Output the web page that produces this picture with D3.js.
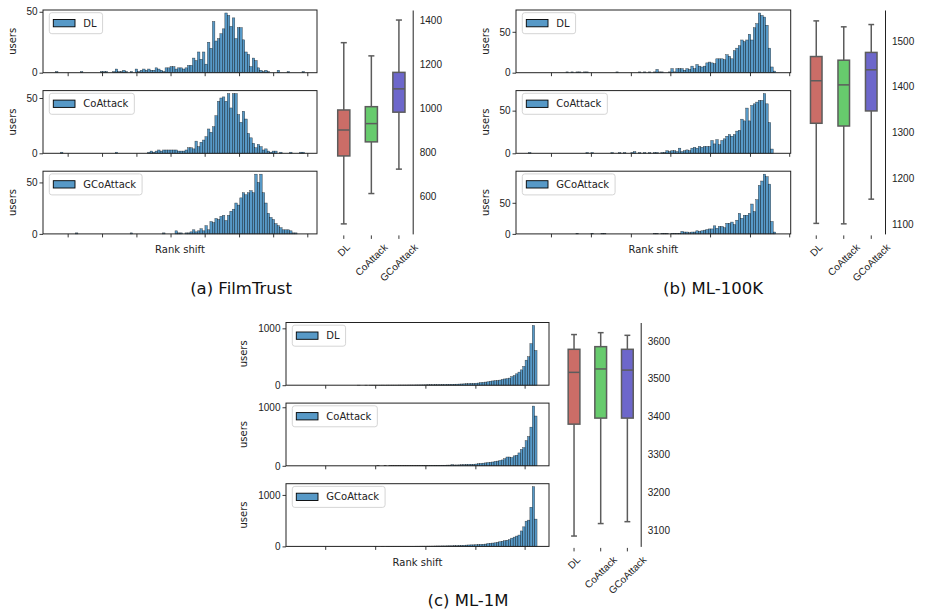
<!DOCTYPE html>
<html>
<head>
<meta charset="utf-8">
<script src="https://cdn.jsdelivr.net/npm/d3@7"></script>
<style>
  body { margin: 0; background: #fff; }
  svg { font-family: "DejaVu Sans", sans-serif; }
</style>
</head>
<body>
<svg width="926" height="613"></svg>
<script>
const methods = ['DL', 'CoAttack', 'GCoAttack'];

// ---- histogram counts, 100 bins of rank shift each
const filmTrustDL = [
  1,0,0,0,0,0,0,0,0,0, 1,0,0,0,0,0,0,0,1,1, 1,0,0,1,3,1,1,2,1,0, 1,0,3,1,2,3,2,3,2,2,
  4,3,2,1,4,4,5,5,3,4, 4,3,4,6,6,12,10,17,11,17, 7,25,20,42,26,28,32,36,49,47,
  38,45,28,37,37,27,17,15,5,12, 10,4,2,1,2,1,0,0,0,2, 0,0,0,1,0,0,0,0,0,1];
const filmTrustCo = [
  0,0,1,0,0,0,0,0,0,0, 0,0,0,0,0,0,0,0,0,0, 0,0,0,0,1,0,0,0,0,0, 0,0,0,0,0,0,0,1,2,1,
  2,3,2,3,3,3,3,3,3,2, 2,2,3,5,5,4,11,6,10,12, 15,22,19,24,34,47,50,51,47,54,
  41,54,54,35,28,38,31,18,14,9, 5,8,6,3,4,2,1,2,2,0, 1,0,0,0,1,0,0,0,1,1];
const filmTrustG = [
  0,0,0,0,0,0,0,0,1,0, 0,0,0,0,0,0,0,0,0,0, 0,0,0,0,0,0,0,0,0,0, 1,0,0,0,0,0,0,0,0,0,
  0,0,0,1,0,0,0,0,3,1, 1,0,1,1,2,4,2,3,5,3, 8,4,12,11,15,14,17,18,13,18,
  22,24,30,28,35,40,38,40,42,40, 58,50,58,40,30,20,16,14,10,8, 6,4,4,4,3,1,1,0,0,0];

const ml100kDL = [
  0,0,0,0,0,0,0,0,0,0, 0,0,0,0,0,1,0,1,0,1, 1,0,1,1,0,0,0,0,0,0, 0,0,0,0,0,1,0,0,0,0,
  0,0,0,0,1,0,1,0,1,0, 1,4,1,1,0,0,1,5,1,5, 5,5,3,5,4,8,5,10,8,7,
  8,12,13,12,11,17,17,17,16,22, 20,17,27,30,33,40,38,40,47,40, 55,60,73,70,68,58,30,7,2,0];
const ml100kCo = [
  1,0,0,0,0,0,0,0,0,0, 0,0,0,0,0,0,0,0,0,0, 0,0,0,1,0,1,0,0,0,0, 0,0,0,1,0,0,1,0,1,0,
  0,1,2,0,1,0,1,0,1,0, 1,1,0,1,1,3,2,3,3,2, 6,2,3,4,3,6,7,6,8,7,
  8,8,8,15,11,16,10,15,17,20, 22,20,22,26,27,40,38,53,38,56, 58,60,62,62,70,58,36,5,0,0];
const ml100kG = [
  0,0,0,0,0,0,0,0,0,0, 0,0,0,0,0,0,0,0,0,1, 0,0,0,0,0,1,0,0,0,1, 1,0,0,0,0,0,0,0,0,0,
  0,0,0,0,0,0,0,0,0,0, 1,1,0,1,1,1,0,1,1,1, 1,4,3,3,2,3,3,5,4,5,
  6,7,8,8,13,9,12,12,10,17, 17,19,15,22,33,25,30,30,33,48, 36,55,78,85,96,92,80,20,3,0];

const ml1mDL = [
  0,0,0,0,0,0,0,0,0,0, 0,0,0,0,0,0,0,0,0,0, 0,0,0,0,0,1,0,0,1,0, 1,1,1,1,1,2,1,2,2,2,
  2,2,3,3,3,3,4,4,4,5, 5,6,6,7,8,8,9,10,10,11, 12,13,14,15,15,17,18,20,22,24,
  26,28,30,30,35,38,45,48,55,60, 70,75,80,82,90,100,110,115,125,150, 170,200,230,270,330,440,500,730,1050,610];
const ml1mCo = [
  0,0,0,0,0,0,0,0,0,0, 0,0,0,0,0,0,0,0,0,0, 0,0,0,0,0,0,0,0,0,0, 0,0,0,1,0,0,1,0,1,1,
  1,1,1,2,2,2,2,3,3,3, 4,4,5,5,5,6,7,8,8,9, 10,10,12,12,20,14,15,16,18,20,
  22,24,25,25,30,35,40,45,50,55, 60,65,75,80,90,100,120,150,150,140, 170,180,220,280,310,430,500,660,1020,850];
const ml1mG = [
  0,0,0,0,0,0,0,0,0,0, 0,0,0,0,0,0,0,0,0,0, 0,0,0,0,0,0,0,0,0,0, 0,0,1,0,0,1,0,1,1,1,
  1,1,2,2,2,2,3,3,3,4, 4,5,5,5,6,6,7,8,9,9, 10,10,11,12,12,14,15,16,18,20,
  25,28,30,30,32,35,38,40,45,55, 60,65,70,80,90,100,110,120,130,160, 180,200,220,300,380,490,510,760,1160,530];

// ---- box stats: [lower whisker, q1, median, q3, upper whisker], order DL, CoAttack, GCoAttack
const filmTrustBoxes = [[476, 785, 903, 994, 1300], [614, 849, 932, 1009, 1240], [725, 984, 1090, 1165, 1403]];
const ml100kBoxes = [[1101, 1320, 1413, 1466, 1544], [1100, 1314, 1404, 1458, 1531], [1154, 1347, 1437, 1475, 1536]];
const ml1mBoxes = [[3084, 3380, 3517, 3578, 3617], [3117, 3396, 3526, 3585, 3622], [3122, 3396, 3523, 3578, 3615]];

// ---- ticks
const filmTrustBoxTicks = [600, 800, 1000, 1200, 1400];
const ml100kBoxTicks = [1100, 1200, 1300, 1400, 1500];
const ml1mBoxTicks = [3100, 3200, 3300, 3400, 3500, 3600];
const filmTrustUserTicks = [0, 50];
const ml100kUserTicks = [0, 50];
const ml1mUserTicks = [0, 1000];
// rank shift tick positions, in bin units
const filmTrustRankTicks = [4.9, 18.7, 32.5, 46.2, 59.9, 73.7, 87.4, 101.1];
const ml100kRankTicks = [9.0, 25.0, 41.0, 56.8, 72.7, 88.7, 104.4];
const ml1mRankTicks = [11.4, 32.3, 53.3, 74.2, 94.8];

const captions = ['(a) FilmTrust', '(b) ML-100K', '(c) ML-1M'];

const boxColors = ['#cb6d67', '#67cb6d', '#6d67cb'];
const boxLine = '#5c5c5c';
const barFill = '#1f77b4';
const ink = '#222';
const fmt = d3.format('d');

const svg = d3.select('svg');

const panels = [
  { hists: [filmTrustDL, filmTrustCo, filmTrustG], boxes: filmTrustBoxes,
    userTicks: filmTrustUserTicks, rankTicks: filmTrustRankTicks, boxTicks: filmTrustBoxTicks,
    left: 43, right: 317, top: 10, usersX: 12,
    box: { left: 330, right: 412.7, domain: [430.5, 1448.6], w: 0.44 },
    caption: { x: 241, y: 294, text: captions[0] } },
  { hists: [ml100kDL, ml100kCo, ml100kG], boxes: ml100kBoxes,
    userTicks: ml100kUserTicks, rankTicks: ml100kRankTicks, boxTicks: ml100kBoxTicks,
    left: 516, right: 790.7, top: 10, usersX: 485,
    box: { left: 802.5, right: 885, domain: [1078, 1567.8], w: 0.42 },
    caption: { x: 713, y: 294, text: captions[1] } },
  { hists: [ml1mDL, ml1mCo, ml1mG], boxes: ml1mBoxes,
    userTicks: ml1mUserTicks, rankTicks: ml1mRankTicks, boxTicks: ml1mBoxTicks,
    left: 286, right: 549, top: 322.5, usersX: 243,
    box: { left: 560.7, right: 640.7, domain: [3056.6, 3648.9], w: 0.44 },
    caption: { x: 468, y: 606, text: captions[2] } }
];

const rowH = 62.7, rowGap = 17.9;

function drawHist(counts, p, top, name) {
  const bottom = top + rowH;
  const g = svg.append('g');
  const x = d3.scaleLinear().domain([-5, counts.length + 5]).range([p.left, p.right]);
  const y = d3.scaleLinear().domain([0, d3.max(counts) * 1.05]).range([bottom, top]);

  g.selectAll('rect.bar').data(counts).join('rect')
    .attr('class', 'bar')
    .attr('x', (d, i) => x(i))
    .attr('width', x(1) - x(0))
    .attr('y', d => y(d))
    .attr('height', d => bottom - y(d))
    .attr('fill', barFill).attr('fill-opacity', 0.75)
    .attr('stroke', '#000').attr('stroke-opacity', 0.7).attr('stroke-width', 0.45);

  const ya = g.append('g').attr('transform', `translate(${p.left},0)`)
    .call(d3.axisLeft(y).tickValues(p.userTicks).tickFormat(fmt).tickSize(3.5).tickPadding(2));
  const xa = g.append('g').attr('transform', `translate(0,${bottom})`)
    .call(d3.axisBottom(x).tickValues(p.rankTicks).tickSize(3.5).tickFormat(''));
  [ya, xa].forEach(a => {
    a.select('.domain').remove();
    a.selectAll('line').attr('stroke', ink).attr('stroke-width', 0.9);
    a.selectAll('text').attr('fill', ink).style('font-size', '10px');
  });

  g.append('rect')
    .attr('x', p.left).attr('y', top)
    .attr('width', p.right - p.left).attr('height', rowH)
    .attr('fill', 'none').attr('stroke', ink).attr('stroke-width', 1);

  g.append('text')
    .attr('transform', `translate(${p.usersX},${(top + bottom) / 2}) rotate(-90)`)
    .attr('text-anchor', 'middle').attr('dy', '0.35em')
    .style('font-size', '10px').attr('fill', ink)
    .text('users');

  // legend
  const lg = g.append('g').attr('transform', `translate(${p.left + 6.3},${top + 2.7})`);
  const frame = lg.append('rect').attr('height', 21).attr('rx', 2.5)
    .attr('fill', '#fff').attr('fill-opacity', 0.8)
    .attr('stroke', '#d0d0d0').attr('stroke-width', 0.9);
  lg.append('rect').attr('x', 4).attr('y', 6.8).attr('width', 21.7).attr('height', 7.3)
    .attr('fill', barFill).attr('fill-opacity', 0.75)
    .attr('stroke', '#000').attr('stroke-width', 0.9);
  const t = lg.append('text').attr('x', 34).attr('y', 10.5).attr('dy', '0.35em')
    .style('font-size', '10px').attr('fill', ink).text(name);
  frame.attr('width', 34 + t.node().getComputedTextLength() + 6);
}

function drawBoxes(p) {
  const top = p.top, bottom = p.top + 3 * rowH + 2 * rowGap;
  const g = svg.append('g');
  const x = d3.scaleBand().domain(methods).range([p.box.left, p.box.right]);
  const y = d3.scaleLinear().domain(p.box.domain).range([bottom, top]);
  const bw = x.bandwidth() * p.box.w;
  const cx = m => x(m) + x.bandwidth() / 2;

  const items = g.selectAll('g.box').data(p.boxes.map((s, i) => ({ m: methods[i], s, c: boxColors[i] })))
    .join('g').attr('class', 'box');

  items.append('line')
    .attr('x1', d => cx(d.m)).attr('x2', d => cx(d.m))
    .attr('y1', d => y(d.s[0])).attr('y2', d => y(d.s[1]));
  items.append('line')
    .attr('x1', d => cx(d.m)).attr('x2', d => cx(d.m))
    .attr('y1', d => y(d.s[3])).attr('y2', d => y(d.s[4]));
  items.append('line')
    .attr('x1', d => cx(d.m) - bw / 4).attr('x2', d => cx(d.m) + bw / 4)
    .attr('y1', d => y(d.s[0])).attr('y2', d => y(d.s[0]));
  items.append('line')
    .attr('x1', d => cx(d.m) - bw / 4).attr('x2', d => cx(d.m) + bw / 4)
    .attr('y1', d => y(d.s[4])).attr('y2', d => y(d.s[4]));
  items.append('rect')
    .attr('x', d => cx(d.m) - bw / 2).attr('width', bw)
    .attr('y', d => y(d.s[3])).attr('height', d => y(d.s[1]) - y(d.s[3]))
    .attr('fill', d => d.c);
  items.append('line')
    .attr('x1', d => cx(d.m) - bw / 2).attr('x2', d => cx(d.m) + bw / 2)
    .attr('y1', d => y(d.s[2])).attr('y2', d => y(d.s[2]));
  items.selectAll('line, rect').attr('stroke', boxLine).attr('stroke-width', 1.5);

  // right spine + labels
  const ra = g.append('g').attr('transform', `translate(${p.box.right},0)`)
    .call(d3.axisRight(y).tickValues(p.boxTicks).tickFormat(fmt).tickSize(0).tickPadding(7).tickSizeOuter(0));
  ra.select('.domain').attr('stroke', ink).attr('stroke-width', 1);
  ra.selectAll('text').attr('fill', ink).style('font-size', '10px');

  // bottom ticks, labels rotated 45 degrees and centred on the tick
  const ba = g.append('g').attr('transform', `translate(0,${bottom})`)
    .call(d3.axisBottom(x).tickSize(3.5).tickSizeOuter(0));
  ba.select('.domain').remove();
  ba.selectAll('line').attr('stroke', ink).attr('stroke-width', 0.9).attr('y1', 1.5).attr('y2', 5);
  ba.selectAll('text')
    .attr('fill', ink).style('font-size', '10px')
    .attr('text-anchor', 'middle').attr('y', 0).attr('dy', '0.35em')
    .attr('transform', function () {
      const len = this.getComputedTextLength();
      const half = (len + 10) * 0.707 / 2;
      return `translate(0,${8 + half}) rotate(-45)`;
    });
}

panels.forEach(p => {
  p.hists.forEach((counts, i) => drawHist(counts, p, p.top + i * (rowH + rowGap), methods[i]));
  const bottom = p.top + 3 * rowH + 2 * rowGap;
  svg.append('text')
    .attr('x', (p.left + p.right) / 2).attr('y', bottom + 19.5)
    .attr('text-anchor', 'middle').style('font-size', '10px').attr('fill', ink)
    .text('Rank shift');
  drawBoxes(p);
  svg.append('text')
    .attr('x', p.caption.x).attr('y', p.caption.y)
    .attr('text-anchor', 'middle').style('font-size', '16.5px').attr('fill', '#111')
    .text(p.caption.text);
});
</script>
</body>
</html>
